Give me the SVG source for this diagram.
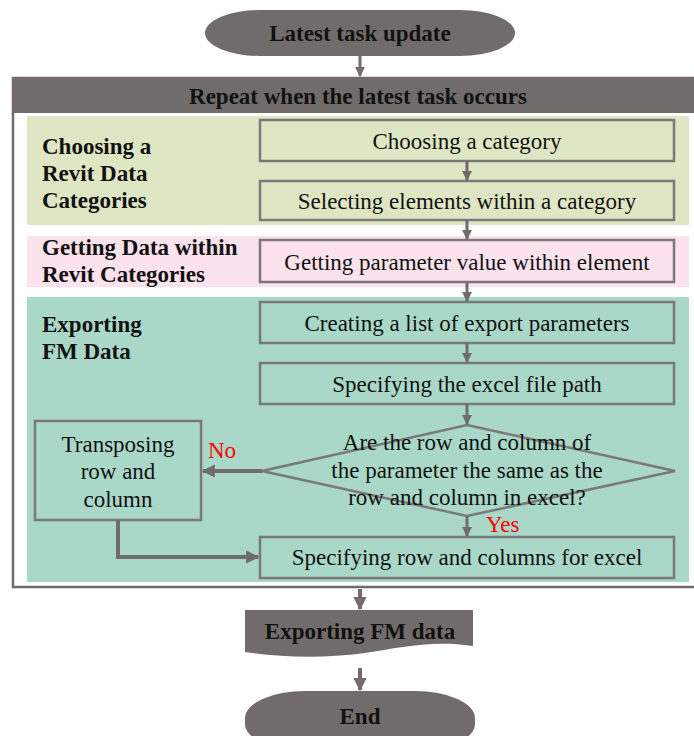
<svg xmlns="http://www.w3.org/2000/svg" width="694" height="736" viewBox="0 0 694 736">
<defs>
<style>
.term{fill:#716c6b}
.box{fill:none;stroke:#7a7878;stroke-width:2.5}
.t{font-family:"Liberation Serif","Times New Roman",serif;font-size:23px;fill:#111;text-anchor:middle}
.b{font-family:"Liberation Serif","Times New Roman",serif;font-size:23px;font-weight:bold;fill:#111}
.bc{text-anchor:middle}
.red{font-family:"Liberation Serif","Times New Roman",serif;font-size:23px;fill:#ff0000}
.c{fill:none;stroke:#716c6b;stroke-width:3}
.ct{fill:none;stroke:#716c6b;stroke-width:4}
</style>
<marker id="ah" viewBox="0 0 10 10" refX="9" refY="5" markerWidth="3.3" markerHeight="3.3" orient="auto" markerUnits="strokeWidth">
<path d="M0,0 L10,5 L0,10 Z" fill="#716c6b"/>
</marker>
</defs>
<rect width="694" height="736" fill="#ffffff"/>

<g id="frame">
<rect x="13" y="78" width="690" height="509" fill="#ffffff" stroke="#716c6b" stroke-width="2.5"/>
<rect x="12" y="77" width="682" height="36" fill="#716c6b"/>
<text class="b bc" x="358" y="104">Repeat when the latest task occurs</text>
</g>

<g id="band-choosing">
<rect x="27" y="116" width="662" height="109" fill="#dfe6c3"/>
<text class="b" x="42" y="154">Choosing a</text>
<text class="b" x="42" y="181">Revit Data</text>
<text class="b" x="42" y="208">Categories</text>
</g>
<g id="band-getting">
<rect x="27" y="236" width="662" height="51" fill="#fbe2ec"/>
<text class="b" x="42" y="255">Getting Data within</text>
<text class="b" x="42" y="282">Revit Categories</text>
</g>
<g id="band-exporting">
<rect x="27" y="297" width="662" height="285" fill="#a9d8c8"/>
<text class="b" x="42" y="332">Exporting</text>
<text class="b" x="42" y="359">FM Data</text>
</g>

<g id="start">
<rect x="205" y="10" width="310" height="46" rx="55" ry="23" class="term"/>
<text class="b bc" x="360" y="41">Latest task update</text>
</g>

<g id="choose-category">
<rect x="260" y="120" width="414" height="41" class="box"/>
<text class="t" x="467" y="149">Choosing a category</text>
</g>
<g id="select-elements">
<rect x="260" y="181" width="414" height="39" class="box"/>
<text class="t" x="467" y="209">Selecting elements within a category</text>
</g>
<g id="get-parameter">
<rect x="260" y="240" width="414" height="42" class="box"/>
<text class="t" x="467" y="270">Getting parameter value within element</text>
</g>
<g id="create-list">
<rect x="260" y="302" width="414" height="41" class="box"/>
<text class="t" x="467" y="331">Creating a list of export parameters</text>
</g>
<g id="file-path">
<rect x="260" y="363" width="414" height="41" class="box"/>
<text class="t" x="467" y="392">Specifying the excel file path</text>
</g>
<g id="decision">
<polygon points="467,425 675,471 467,516 262,471" class="box"/>
<text class="t" x="467" y="450">Are the row and column of</text>
<text class="t" x="467" y="478">the parameter the same as the</text>
<text class="t" x="467" y="505">row and column in excel?</text>
</g>
<g id="transpose">
<rect x="35" y="421" width="166" height="99" class="box"/>
<text class="t" x="118" y="452">Transposing</text>
<text class="t" x="118" y="479">row and</text>
<text class="t" x="118" y="507">column</text>
</g>
<g id="specify-rows">
<rect x="260" y="537" width="414" height="41" class="box"/>
<text class="t" x="467" y="565">Specifying row and columns for excel</text>
</g>

<g id="export-data">
<path d="M245,610 H473 V646 C430,640 400,648 365,653 C320,659 280,657 245,652 Z" class="term"/>
<text class="b bc" x="360" y="639">Exporting FM data</text>
</g>
<g id="end">
<rect x="245" y="691" width="230" height="60" rx="60" ry="27" class="term"/>
<text class="b bc" x="360" y="724">End</text>
</g>

<g id="connectors">
<line x1="360" y1="56" x2="360" y2="76" class="c" marker-end="url(#ah)"/>
<line x1="467" y1="161" x2="467" y2="180" class="c" marker-end="url(#ah)"/>
<line x1="467" y1="220" x2="467" y2="239" class="c" marker-end="url(#ah)"/>
<line x1="467" y1="282" x2="467" y2="301" class="c" marker-end="url(#ah)"/>
<line x1="467" y1="343" x2="467" y2="362" class="c" marker-end="url(#ah)"/>
<line x1="467" y1="404" x2="467" y2="424" class="c" marker-end="url(#ah)"/>
<line x1="467" y1="516" x2="467" y2="536" class="c" marker-end="url(#ah)"/>
<line x1="262" y1="471" x2="203" y2="471" class="ct" marker-end="url(#ah)"/>
<polyline points="118,520 118,557 258,557" class="ct" marker-end="url(#ah)"/>
<line x1="360" y1="589" x2="360" y2="609" class="ct" marker-end="url(#ah)"/>
<line x1="360" y1="668" x2="360" y2="690" class="ct" marker-end="url(#ah)"/>
<text class="red" x="208" y="458">No</text>
<text class="red" x="486" y="532">Yes</text>
</g>
</svg>
